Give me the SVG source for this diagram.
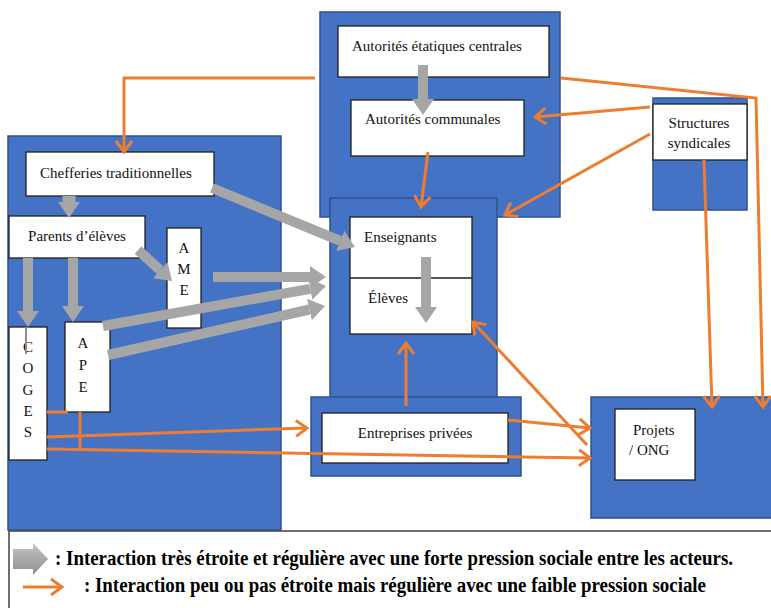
<svg xmlns="http://www.w3.org/2000/svg" width="771" height="608" viewBox="0 0 771 608">
<defs>
<marker id="gh" viewBox="0 -11 16 22" refX="0" refY="0" markerWidth="16" markerHeight="22" markerUnits="userSpaceOnUse" orient="auto">
<path d="M0,-11 L16,0 L0,11 z" fill="#a6a6a6"/>
</marker>
<marker id="oh" viewBox="-14 -10 17 20" refX="0" refY="0" markerWidth="17" markerHeight="20" markerUnits="userSpaceOnUse" orient="auto">
<path d="M-11,-8 L0,0 L-11,8" fill="none" stroke="#ED7D31" stroke-width="3"/>
</marker>
<linearGradient id="gg" x1="0" y1="0" x2="0" y2="1">
<stop offset="0" stop-color="#c4c4c4"/>
<stop offset="1" stop-color="#8e8e8e"/>
</linearGradient>
</defs>
<rect width="771" height="608" fill="#fff"/>

<g fill="#4472C4" stroke="#2F528F" stroke-width="1.5">
<g id="zone-gauche"><rect x="8" y="136" width="273" height="394"/></g>
<g id="zone-etat"><rect x="320" y="12" width="240" height="205"/></g>
<g id="zone-ecole"><rect x="330" y="198" width="167" height="202"/></g>
<g id="zone-entreprises"><rect x="311" y="397" width="210" height="79"/></g>
<g id="zone-syndicats"><rect x="653" y="98" width="94" height="112"/></g>
<g id="zone-projets"><rect x="591" y="397" width="185" height="121"/></g>
</g>

<g font-family="Liberation Serif" font-size="15">
<g id="chefferies"><rect fill="#fff" stroke="#1f1f1f" stroke-width="1.3" x="26" y="152" width="188" height="44"/><text fill="#111" x="40" y="178">Chefferies traditionnelles</text></g>
<g id="parents"><rect fill="#fff" stroke="#1f1f1f" stroke-width="1.3" x="9" y="216" width="136" height="42"/><text fill="#111" text-anchor="middle" x="77" y="241">Parents d’élèves</text></g>
<g id="ame" text-anchor="middle" fill="#111"><rect fill="#fff" stroke="#1f1f1f" stroke-width="1.3" x="167" y="228" width="34" height="100"/><text x="184" y="253">A</text><text x="184" y="274">M</text><text x="184" y="295">E</text></g>
<g id="coges" text-anchor="middle" fill="#111"><rect fill="#fff" stroke="#1f1f1f" stroke-width="1.3" x="9" y="327" width="38" height="133"/><text x="28" y="352">C</text><text x="28" y="373">O</text><text x="28" y="395">G</text><text x="28" y="416">E</text><text x="28" y="437">S</text></g>
<g id="ape" text-anchor="middle" fill="#111"><rect fill="#fff" stroke="#1f1f1f" stroke-width="1.3" x="65" y="322" width="45" height="90"/><text x="83" y="348">A</text><text x="83" y="370">P</text><text x="83" y="392">E</text></g>
<g id="autorites-centrales"><rect fill="#fff" stroke="#1f1f1f" stroke-width="1.3" x="338" y="26" width="211" height="51"/><text fill="#111" x="352" y="51">Autorités étatiques centrales</text></g>
<g id="autorites-communales"><rect fill="#fff" stroke="#1f1f1f" stroke-width="1.3" x="351" y="100" width="173" height="56"/><text fill="#111" x="365" y="124">Autorités communales</text></g>
<g id="enseignants-eleves"><rect fill="#fff" stroke="#1f1f1f" stroke-width="1.3" x="350" y="217" width="122" height="117"/><line x1="350" y1="278" x2="472" y2="278" stroke="#1f1f1f" stroke-width="1.3"/><text fill="#111" x="364" y="242">Enseignants</text><text fill="#111" x="368" y="303">Élèves</text></g>
<g id="entreprises"><rect fill="#fff" stroke="#1f1f1f" stroke-width="1.3" x="322" y="413" width="186" height="50"/><text fill="#111" text-anchor="middle" x="415" y="438">Entreprises privées</text></g>
<g id="syndicats" text-anchor="middle" fill="#111"><rect fill="#fff" stroke="#1f1f1f" stroke-width="1.3" x="653" y="104" width="94" height="56"/><text x="699" y="128">Structures</text><text x="699" y="148">syndicales</text></g>
<g id="projets" fill="#111"><rect fill="#fff" stroke="#1f1f1f" stroke-width="1.3" x="615" y="409" width="80" height="71"/><text x="633" y="435">Projets</text><text x="629" y="455">/ ONG</text></g>
</g>

<g id="connecteurs">
<g stroke="#a6a6a6" stroke-width="10" fill="none" marker-end="url(#gh)">
<line x1="69" y1="196" x2="69" y2="202" stroke-width="13"/>
<line x1="212" y1="188" x2="340.2" y2="240.9"/>
<line x1="28" y1="258" x2="28" y2="311"/>
<line x1="73" y1="258" x2="73" y2="306"/>
<line x1="138" y1="250" x2="160.2" y2="270.2"/>
<line x1="213" y1="277" x2="310" y2="277"/>
<line x1="103" y1="326" x2="310.3" y2="288.8"/>
<line x1="108" y1="355" x2="309.4" y2="309.5"/>
<line x1="426" y1="257" x2="426" y2="307"/>
<line x1="423" y1="65" x2="423" y2="99"/>
</g>
<line x1="26" y1="327" x2="26" y2="354" stroke="#8e8e8e" stroke-width="2"/>
<g stroke="#ED7D31" stroke-width="3" fill="none">
<g marker-end="url(#oh)">
<polyline points="315,78 124,78 124,152"/>
<polyline points="561,78 756,98 763,407"/>
<line x1="650" y1="107" x2="535" y2="117"/>
<line x1="650" y1="134" x2="505" y2="215"/>
<line x1="428" y1="152" x2="421" y2="207"/>
<line x1="704" y1="160" x2="712" y2="407"/>
<line x1="406" y1="406" x2="406" y2="343"/>
<line x1="587" y1="445" x2="473" y2="322"/>
<line x1="508" y1="420" x2="590" y2="428"/>
<line x1="47" y1="437" x2="307" y2="428"/>
<line x1="47" y1="449" x2="590" y2="458"/>
</g>
<line x1="47" y1="412" x2="68" y2="412"/>
<line x1="80" y1="412" x2="80" y2="449"/>
</g>
</g>

<g id="legende">
<rect x="9" y="531" width="780" height="90" fill="#fff" stroke="#404040" stroke-width="1.5"/>
<path d="M13,549 H33 V543 L48,559 L33,575 V569 H13 z" fill="url(#gg)"/>
<line x1="23" y1="587" x2="62" y2="587" stroke="#ED7D31" stroke-width="3" marker-end="url(#oh)"/>
<text font-family="Liberation Serif" font-size="20" font-weight="bold" fill="#000" x="55" y="565" textLength="678" lengthAdjust="spacingAndGlyphs">: Interaction très étroite et régulière avec une forte pression sociale entre les acteurs.</text>
<text font-family="Liberation Serif" font-size="20" font-weight="bold" fill="#000" x="84" y="592" textLength="622" lengthAdjust="spacingAndGlyphs">: Interaction peu ou pas étroite mais régulière avec une faible pression sociale</text>
</g>
</svg>
